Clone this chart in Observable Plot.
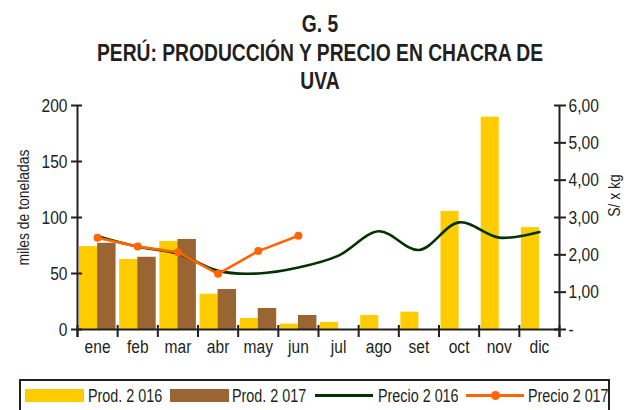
<!DOCTYPE html>
<html><head><meta charset="utf-8">
<script src="https://cdn.jsdelivr.net/npm/d3@7"></script>
<script src="https://cdn.jsdelivr.net/npm/@observablehq/plot@0.6"></script>
<style>
body{margin:0;background:#fff;}
#wrap{position:relative;width:633px;height:410px;overflow:hidden;font-family:"Liberation Sans",Arial,sans-serif;color:#231f20;}
#chart{position:absolute;left:0;top:0;}
#title{position:absolute;left:0;top:10px;width:640px;text-align:center;font-weight:bold;font-size:23.5px;line-height:28.5px;color:#231f20;transform:scaleX(0.82);transform-origin:320px 0;}
#legend{position:absolute;left:19px;top:379px;width:591px;height:40px;border:2px solid #231f20;box-sizing:border-box;}
.li{position:absolute;}
.lt{position:absolute;font-size:17.5px;line-height:20px;top:5px;white-space:nowrap;transform:scaleX(0.82);transform-origin:0 0;}
</style>
</head><body>
<div id="wrap">
  <div id="chart"></div>
  <div id="title">G. 5<br>PERÚ: PRODUCCIÓN Y PRECIO EN CHACRA DE<br>UVA</div>
  <div id="legend"></div>
</div>
<script>
const months = ["ene","feb","mar","abr","may","jun","jul","ago","set","oct","nov","dic"];
const prod2016 = [74, 62.5, 78.6, 31.5, 9.8, 4.8, 6.3, 12.5, 15.5, 105.4, 189.6, 91];
const prod2017 = [77, 64.5, 80.4, 35.7, 18.8, 12.5];
const precio2016 = [2.50, 2.22, 2.03, 1.57, 1.50, 1.66, 1.98, 2.63, 2.13, 2.87, 2.46, 2.61];
const precio2017 = [2.46, 2.22, 2.07, 1.49, 2.10, 2.51];
const leftTicks = [0, 50, 100, 150, 200];
const rightTicks = [0, 1, 2, 3, 4, 5, 6];
const rightTickLabels = ["-", "1,00", "2,00", "3,00", "4,00", "5,00", "6,00"];
const seriesNames = ["Prod. 2 016", "Prod. 2 017", "Precio 2 016", "Precio 2 017"];
const seriesColors = ["#ffcc00", "#996633", "#003300", "#ff6600"];
const yLabel = "miles de toneladas";
const y2Label = "S/ x kg";

const leftMax = 200, rightMax = 6, k = leftMax / rightMax;
const axisColor = "#231f20";
const narrow = 0.82;

const d16 = prod2016.map((v, i) => ({i, v}));
const d17 = prod2017.map((v, i) => ({i, v}));
const p16 = precio2016.map((v, i) => ({i, v}));
const p17 = precio2017.map((v, i) => ({i, v}));

const chart = Plot.plot({
  width: 633, height: 410,
  marginTop: 105, marginBottom: 81, marginLeft: 77, marginRight: 74,
  style: {background: "transparent", fontFamily: '"Liberation Sans",Arial,sans-serif', fontSize: "19px", color: axisColor, overflow: "visible"},
  x: {type: "linear", domain: [0, months.length], axis: null},
  y: {domain: [0, leftMax], axis: null},
  marks: [
    Plot.rectY(d16, {x1: d => d.i + 0.05, x2: d => d.i + 0.5, y: "v", fill: seriesColors[0]}),
    Plot.rectY(d17, {x1: d => d.i + 0.5, x2: d => d.i + 0.96, y: "v", fill: seriesColors[1]}),
    Plot.line(p16, {x: d => d.i + 0.5, y: d => d.v * k, stroke: seriesColors[2], strokeWidth: 2.6, curve: "catmull-rom"}),
    Plot.line(p17, {x: d => d.i + 0.5, y: d => d.v * k, stroke: seriesColors[3], strokeWidth: 2.6}),
    Plot.dot(p17, {x: d => d.i + 0.5, y: d => d.v * k, fill: seriesColors[3], r: 4}),
    // axis lines
    Plot.ruleX([0, months.length], {stroke: axisColor, strokeWidth: 2, insetBottom: -8}),
    Plot.ruleY([0], {stroke: axisColor, strokeWidth: 2}),
    // x ticks at month boundaries
    Plot.axisX({ticks: d3.range(months.length + 1), tickSize: 12, dy: -4, tickFormat: () => "", label: null, stroke: axisColor, strokeWidth: 2}),
    // x labels at month centers
    Plot.axisX({ticks: months.map((m, i) => i + 0.5), tickSize: 0, tickPadding: 10, tickFormat: d => months[Math.floor(d)], label: null, fontSize: 19}),
    // left axis
    Plot.axisY({ticks: leftTicks, tickSize: 11, dx: 5, tickFormat: () => "", label: null, stroke: axisColor, strokeWidth: 2}),
    Plot.axisY({ticks: leftTicks, tickSize: 0, tickPadding: 10, label: null, fontSize: 19}),
    // right axis
    Plot.axisY({anchor: "right", ticks: rightTicks.map(v => v * k), tickSize: 12, dx: -6, tickFormat: () => "", label: null, stroke: axisColor, strokeWidth: 2}),
    Plot.axisY({anchor: "right", ticks: rightTicks.map(v => v * k), tickSize: 0, tickPadding: 9, label: null, fontSize: 19,
      tickFormat: d => rightTickLabels[rightTicks.indexOf(Math.round(d / k))]}),
    // axis titles
    Plot.text([yLabel], {frameAnchor: "left", textAnchor: "middle", rotate: -90, dx: -54, dy: -10, fontSize: 17, fill: axisColor}),
    Plot.text([y2Label], {frameAnchor: "right", textAnchor: "middle", rotate: -90, dx: 55, dy: -22, fontSize: 17, fill: axisColor})
  ]
});
// narrow (Arial Narrow-like) text: compress each text horizontally about its anchor
chart.querySelectorAll("text").forEach(t => {
  const tr = t.getAttribute("transform");
  if (tr) t.setAttribute("transform", tr + ` scale(${narrow},1)`);
  else {
    const x = +t.getAttribute("x") || 0, y = +t.getAttribute("y") || 0;
    t.removeAttribute("x"); t.removeAttribute("y");
    t.setAttribute("transform", `translate(${x},${y}) scale(${narrow},1)`);
  }
});
document.getElementById("chart").appendChild(chart);

// legend
const legend = document.getElementById("legend");
const items = [
  {type: "rect", sw: 4, tx: 67},
  {type: "rect", sw: 149, tx: 211},
  {type: "line", sw: 294, tx: 357},
  {type: "linedot", sw: 445, tx: 507}
];
items.forEach((it, j) => {
  const sym = document.createElement("div");
  sym.className = "li";
  if (it.type === "rect") {
    Object.assign(sym.style, {left: it.sw + "px", top: "8px", width: "59px", height: "13px", background: seriesColors[j]});
  } else {
    Object.assign(sym.style, {left: it.sw + "px", top: "13px", width: "58px", height: "2.5px", background: seriesColors[j]});
    if (it.type === "linedot") {
      const dot = document.createElement("div");
      Object.assign(dot.style, {position: "absolute", left: "25px", top: "-3.5px", width: "9px", height: "9px", borderRadius: "50%", background: seriesColors[j]});
      sym.appendChild(dot);
    }
  }
  legend.appendChild(sym);
  const t = document.createElement("div");
  t.className = "lt";
  t.style.left = it.tx + "px";
  t.textContent = seriesNames[j];
  legend.appendChild(t);
});
</script>
</body></html>
